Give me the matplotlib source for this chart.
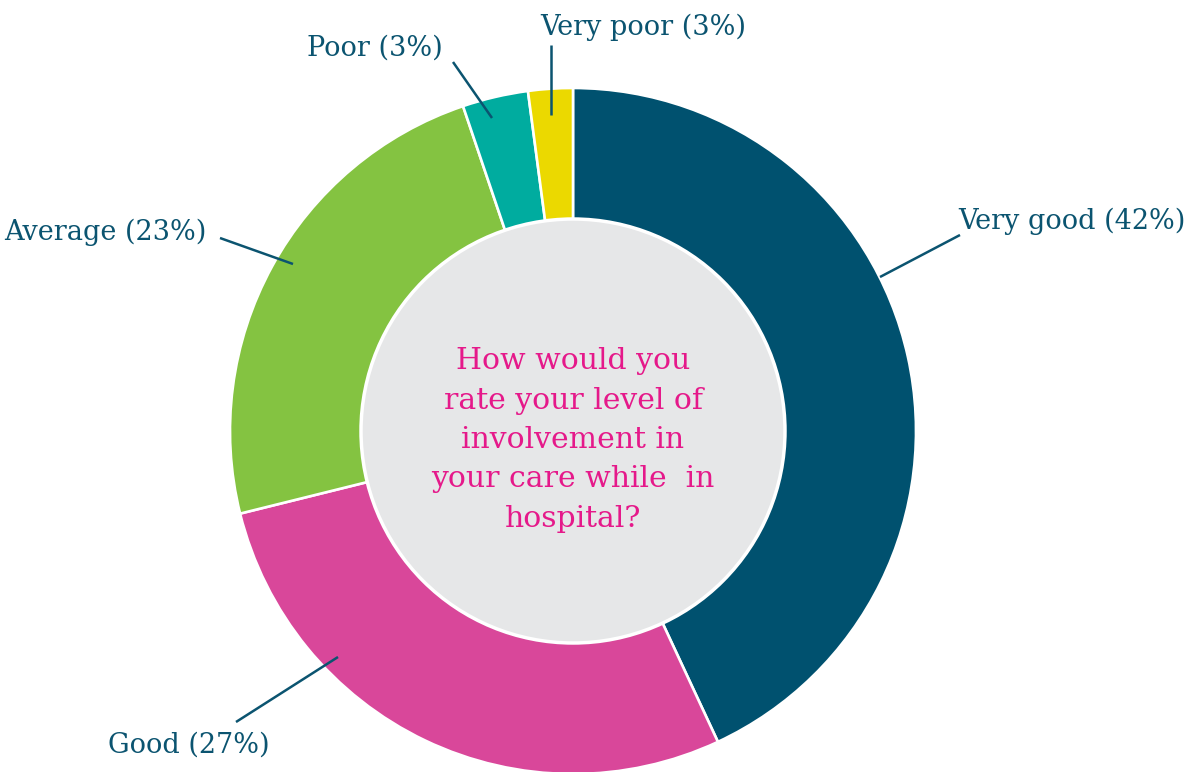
import matplotlib
matplotlib.use("Agg")
import matplotlib.pyplot as plt
from matplotlib.patches import Circle

categories = ["Very good", "Good", "Average", "Poor", "Very poor"]
shown_pct = [42, 27, 23, 3, 3]
values = [43.1, 28.1, 23.7, 3.1, 2.1]
colors = ["#00516f", "#d9479a", "#84c341", "#00ac9f", "#ebd900"]
question = "How would you\nrate your level of\ninvolvement in\nyour care while  in\nhospital?"

W, H = 1191, 772
text_col = "#0b5470"
font = "DejaVu Serif"

fig = plt.figure(figsize=(W / 100, H / 100), dpi=100)
ax = fig.add_axes([0, 0, 1, 1])

def Y(y):
    # picture coords (origin top) -> axes coords
    return H - y

cx, cy = 573, Y(431)
R = 343
r_in = 212

wedges, _ = ax.pie(values, colors=colors, startangle=90, counterclock=False,
                   center=(cx, cy), radius=R, frame=True,
                   wedgeprops=dict(width=R - r_in + 4, edgecolor="white", linewidth=1.9))
ax.set_xlim(0, W)
ax.set_ylim(0, H)
ax.set_aspect("equal")
ax.set_axis_off()

ax.add_patch(Circle((cx, cy), r_in, facecolor="#e6e7e8", edgecolor="white", linewidth=2.5, zorder=3))
ax.text(cx, Y(440), question, ha="center", va="center", color="#e5198a",
        fontsize=21.5, family=font, linespacing=1.52, zorder=4)

# label layout: (text x, baseline y, ha, line start, line end)
layout = [
    (958, 229, "left", (880, 277), (960, 235)),
    (108, 753, "left", (338, 657), (236, 722)),
    (207, 240, "right", (293, 264), (220, 238)),
    (307, 56, "left", (492, 118), (453, 62)),
    (540, 35, "left", (551, 115), (551, 45)),
]
for name, pct, (tx, ty, ha, p0, p1) in zip(categories, shown_pct, layout):
    ax.plot([p0[0], p1[0]], [Y(p0[1]), Y(p1[1])], color=text_col, lw=1.8,
            solid_capstyle="butt", zorder=5)
    ax.text(tx, Y(ty), "%s (%d%%)" % (name, pct), ha=ha, va="baseline",
            color=text_col, fontsize=19.5, family=font, zorder=5)

fig.savefig("out.png", dpi=100, facecolor="white")
